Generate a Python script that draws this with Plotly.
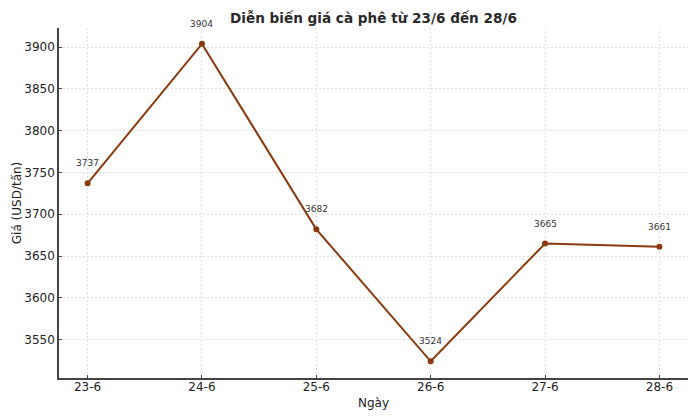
import plotly.graph_objects as go

dates = ["23-6", "24-6", "25-6", "26-6", "27-6", "28-6"]
prices = [3737, 3904, 3682, 3524, 3665, 3661]
y_ticks = [3550, 3600, 3650, 3700, 3750, 3800, 3850, 3900]

color = "#8B3A0E"
xs = list(range(len(dates)))

fig = go.Figure()
fig.add_trace(go.Scatter(
    x=xs, y=prices, mode="lines+markers",
    line=dict(color=color, width=2),
    marker=dict(color=color, size=6),
    hoverinfo="skip", showlegend=False,
))
for x, p in zip(xs, prices):
    fig.add_annotation(x=x, y=p, text=str(p), showarrow=False, yshift=20,
                       font=dict(size=9, color="#333333"))

fig.update_layout(
    width=698, height=419,
    margin=dict(l=59, r=10, t=28, b=41, autoexpand=False),
    paper_bgcolor="white", plot_bgcolor="white",
    font=dict(family="DejaVu Sans", color="#222222"),
    title=dict(text="<b>Diễn biến giá cà phê từ 23/6 đến 28/6</b>", x=0.535, xanchor="center",
               xref="container", yref="container",
               y=1 - 18 / 419, yanchor="middle", font=dict(size=13.6, color="#2a2a2a")),
)
fig.update_xaxes(
    range=[-0.25, 5.25], tickmode="array", tickvals=xs, ticktext=dates,
    showgrid=True, gridcolor="#e0e0e0", griddash="2px,2px", gridwidth=1,
    showline=True, linecolor="#444444", linewidth=1.5,
    ticks="inside", ticklen=3, tickcolor="#444444",
    tickfont=dict(size=12), zeroline=False, automargin=False,
    ticklabelstandoff=-3,
    title=dict(text="Ngày", font=dict(size=12), standoff=5),
)
fig.update_yaxes(
    range=[3504.0, 3923.0], tickmode="array", tickvals=y_ticks,
    showgrid=True, gridcolor="#e0e0e0", griddash="2px,2px", gridwidth=1,
    showline=True, linecolor="#444444", linewidth=1.5,
    ticks="inside", ticklen=3, tickcolor="#444444",
    tickfont=dict(size=12), zeroline=False, automargin=False,
    title=dict(text="Giá (USD/tấn)", font=dict(size=12), standoff=0),
)
fig.write_html("out.html", config={"displayModeBar": False},
               post_script="document.body.style.margin='0';")
